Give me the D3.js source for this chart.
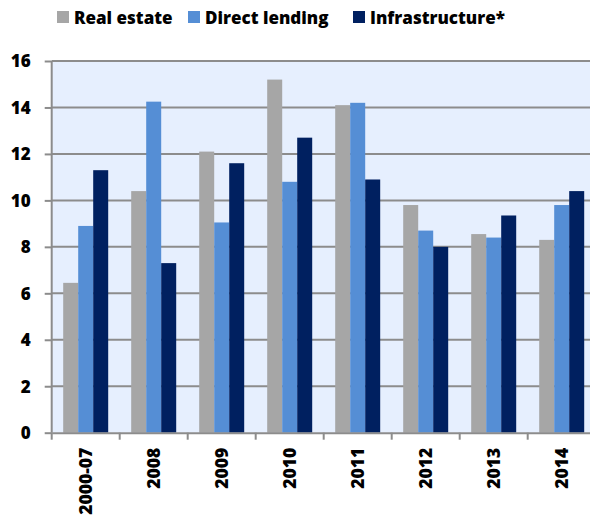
<!DOCTYPE html>
<html><head><meta charset="utf-8">
<script src="https://cdn.jsdelivr.net/npm/d3@7"></script>
<style>
html,body{margin:0;padding:0;background:#fff;}
svg{display:block;}
text{font-family:"Open Sans", sans-serif;font-weight:800;fill:#000;}
</style></head>
<body>
<script>
const categories = ["2000-07","2008","2009","2010","2011","2012","2013","2014"];
const seriesNames = ["Real estate","Direct lending","Infrastructure*"];
const realEstate = [6.45,10.4,12.1,15.2,14.1,9.8,8.55,8.3];
const directLending = [8.9,14.25,9.05,10.8,14.2,8.7,8.4,9.8];
const infrastructure = [11.3,7.3,11.6,12.7,10.9,8.0,9.35,10.4];
const yTicks = [0,2,4,6,8,10,12,14,16];
const colors = ["#A6A6A6","#558ED5","#002060"];
const seriesValues = [realEstate, directLending, infrastructure];

const W = 590, H = 522;
const pLeft = 51.7, pRight = 595.7, pTop = 61, pBottom = 432.7;
const FF = "'Open Sans', sans-serif", FW = 800;

const svg = d3.select("body").append("svg").attr("width", W).attr("height", H);

const x = d3.scaleBand().domain(categories).range([pLeft, pRight]).padding(0);
const xs = d3.scaleBand().domain(seriesNames).range([11.5, x.bandwidth() - 11.5]).padding(0);
const y = d3.scaleLinear().domain([0,16]).range([pBottom, pTop]);

// background
svg.append("rect").attr("x", pLeft).attr("y", pTop).attr("width", pRight-pLeft).attr("height", pBottom-pTop).attr("fill", "#E6EFFE");

// grid
svg.append("g").selectAll("line").data(yTicks.filter(d=>d>0)).join("line")
  .attr("x1", pLeft).attr("x2", pRight)
  .attr("y1", d=>y(d)).attr("y2", d=>y(d))
  .attr("stroke", "#8C8C8C").attr("stroke-width", 2);

// bars
const rows = categories.map((c,i)=>({cat:c, vals: seriesNames.map((s,j)=>({s, v: seriesValues[j][i], j}))}));
const g = svg.append("g").selectAll("g").data(rows).join("g")
  .attr("transform", d=>`translate(${x(d.cat)},0)`);
g.selectAll("rect").data(d=>d.vals).join("rect")
  .attr("x", d=>xs(d.s)).attr("width", xs.bandwidth())
  .attr("y", d=>y(d.v)).attr("height", d=>y(0)-y(d.v))
  .attr("fill", d=>colors[d.j]);

// y axis
const yAxis = svg.append("g").attr("transform", `translate(${pLeft},0)`)
  .call(d3.axisLeft(y).tickValues(yTicks).tickSize(7).tickPadding(14).tickFormat(d3.format("d")));
yAxis.select(".domain").attr("stroke", "#8C8C8C").attr("stroke-width", 2).attr("d", `M0,${pTop}V${pBottom}`);
yAxis.selectAll(".tick line").attr("stroke", "#8C8C8C").attr("stroke-width", 2);
yAxis.selectAll(".tick text").attr("font-size", 17).attr("font-family",FF).attr("font-weight",FW).attr("fill","#000").attr("dy","0.35em");

// x axis
const xAxis = svg.append("g").attr("transform", `translate(0,${pBottom})`)
  .call(d3.axisBottom(x).tickSize(0).tickPadding(0));
xAxis.select(".domain").attr("stroke", "#8C8C8C").attr("stroke-width", 2);
xAxis.selectAll(".tick text")
  .attr("font-size", 17.5).attr("font-family",FF).attr("font-weight",FW).attr("fill","#000")
  .attr("transform", "rotate(-90)").attr("text-anchor","end")
  .attr("x", -15).attr("y", 0).attr("dy", "0.35em");
// boundary ticks
const bounds = categories.map(c=>x(c)).concat([x(categories[categories.length-1]) + x.bandwidth()]);
xAxis.append("g").selectAll("line").data(bounds).join("line")
  .attr("x1", d=>d).attr("x2", d=>d).attr("y1", 0).attr("y2", 7)
  .attr("stroke", "#8C8C8C").attr("stroke-width", 2);

// legend
const legendX = [57, 188, 353];
const lg = svg.append("g").selectAll("g").data(seriesNames).join("g")
  .attr("transform", (d,i)=>`translate(${legendX[i]},11)`);
lg.append("rect").attr("width", 12).attr("height", 12).attr("fill", (d,i)=>colors[i]);
lg.append("text").attr("x", 17).attr("y", 13).attr("font-size", 17).attr("font-family",FF).attr("font-weight",FW).text(d=>d);
</script>
</body></html>
